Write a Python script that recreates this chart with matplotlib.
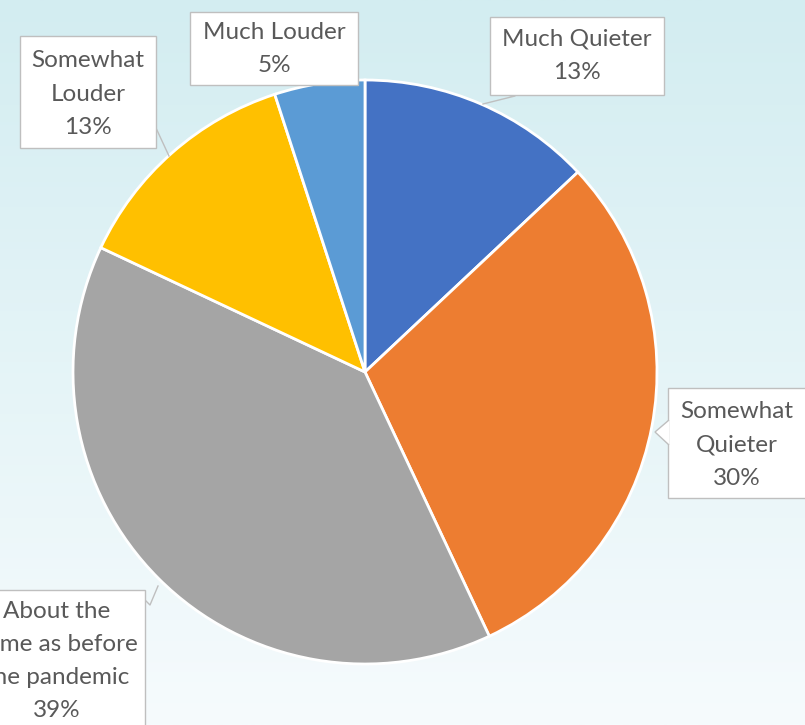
import numpy as np
import matplotlib.pyplot as plt
import matplotlib as mpl
from matplotlib.patches import Rectangle, Polygon

plt.rcParams['font.family'] = ['Lato', 'DejaVu Sans']

# data
categories = ['Much Quieter', 'Somewhat\nQuieter', 'About the\nsame as before\nthe pandemic',
              'Somewhat\nLouder', 'Much Louder']
values = [13, 30, 39, 13, 5]
colors = ['#4472C4', '#ED7D31', '#A5A5A5', '#FFC000', '#5B9BD5']

W, H = 805, 725
fig = plt.figure(figsize=(W / 100, H / 100), dpi=100)
ax = fig.add_axes([0, 0, 1, 1])

# background gradient (top cyan-ish to near white)
top = np.array(mpl.colors.to_rgb('#d3edf1'))
bot = np.array(mpl.colors.to_rgb('#f6fbfd'))
t = np.linspace(0, 1, 256)[:, None]
grad = (top * (1 - t) + bot * t)[:, None, :]
ax.imshow(grad, extent=[0, W, 0, H], aspect='auto', zorder=0, origin='upper')

# pie
cx, cy, r = 365, H - 372, 292
ax.pie(values, colors=colors, startangle=90, counterclock=False,
       center=(cx, cy), radius=r, frame=True,
       wedgeprops=dict(edgecolor='white', linewidth=2, zorder=2))
ax.set_xlim(0, W)
ax.set_ylim(0, H)
ax.axis('off')

# label boxes: (x0, y0, x1, y1) in image pixels, text center
boxes = [
    (490, 17, 664, 95),
    (668, 388, 810, 498),
    (-40, 590, 145, 740),
    (20, 36, 156, 148),
    (190, 12, 358, 85),
]
text_centers = [(577, 56), (737, 445), (57, 661), (88, 94), (274, 49)]
leaders = [
    [(483, 104), (515, 96), (505, 95), (560, 95)],
    None,
    [(158, 586), (150, 605), (145, 600)],
    [(169, 156), (156, 128)],
    None,
]

for cat, val, (x0, y0, x1, y1), (tx, ty), ld in zip(categories, values, boxes,
                                                     text_centers, leaders):
    ax.add_patch(Rectangle((x0, H - y1), x1 - x0, y1 - y0, facecolor='white',
                           edgecolor='#bfbfbf', linewidth=1, zorder=4))
    ax.text(tx, H - ty, f'{cat}\n{val}%', ha='center', va='center',
            fontsize=17.5, color='#595959', linespacing=1.72, zorder=5)
    if ld is not None:
        xs = [p[0] for p in ld]
        ys = [H - p[1] for p in ld]
        ax.plot(xs, ys, color='#bfbfbf', linewidth=1, zorder=3)

# callout pointer for Somewhat Quieter
ax.add_patch(Polygon([(669, H - 420), (655, H - 432), (669, H - 445)],
                     closed=False, facecolor='white', edgecolor='#bfbfbf',
                     linewidth=1, zorder=6))

fig.savefig('out.png', dpi=100)
